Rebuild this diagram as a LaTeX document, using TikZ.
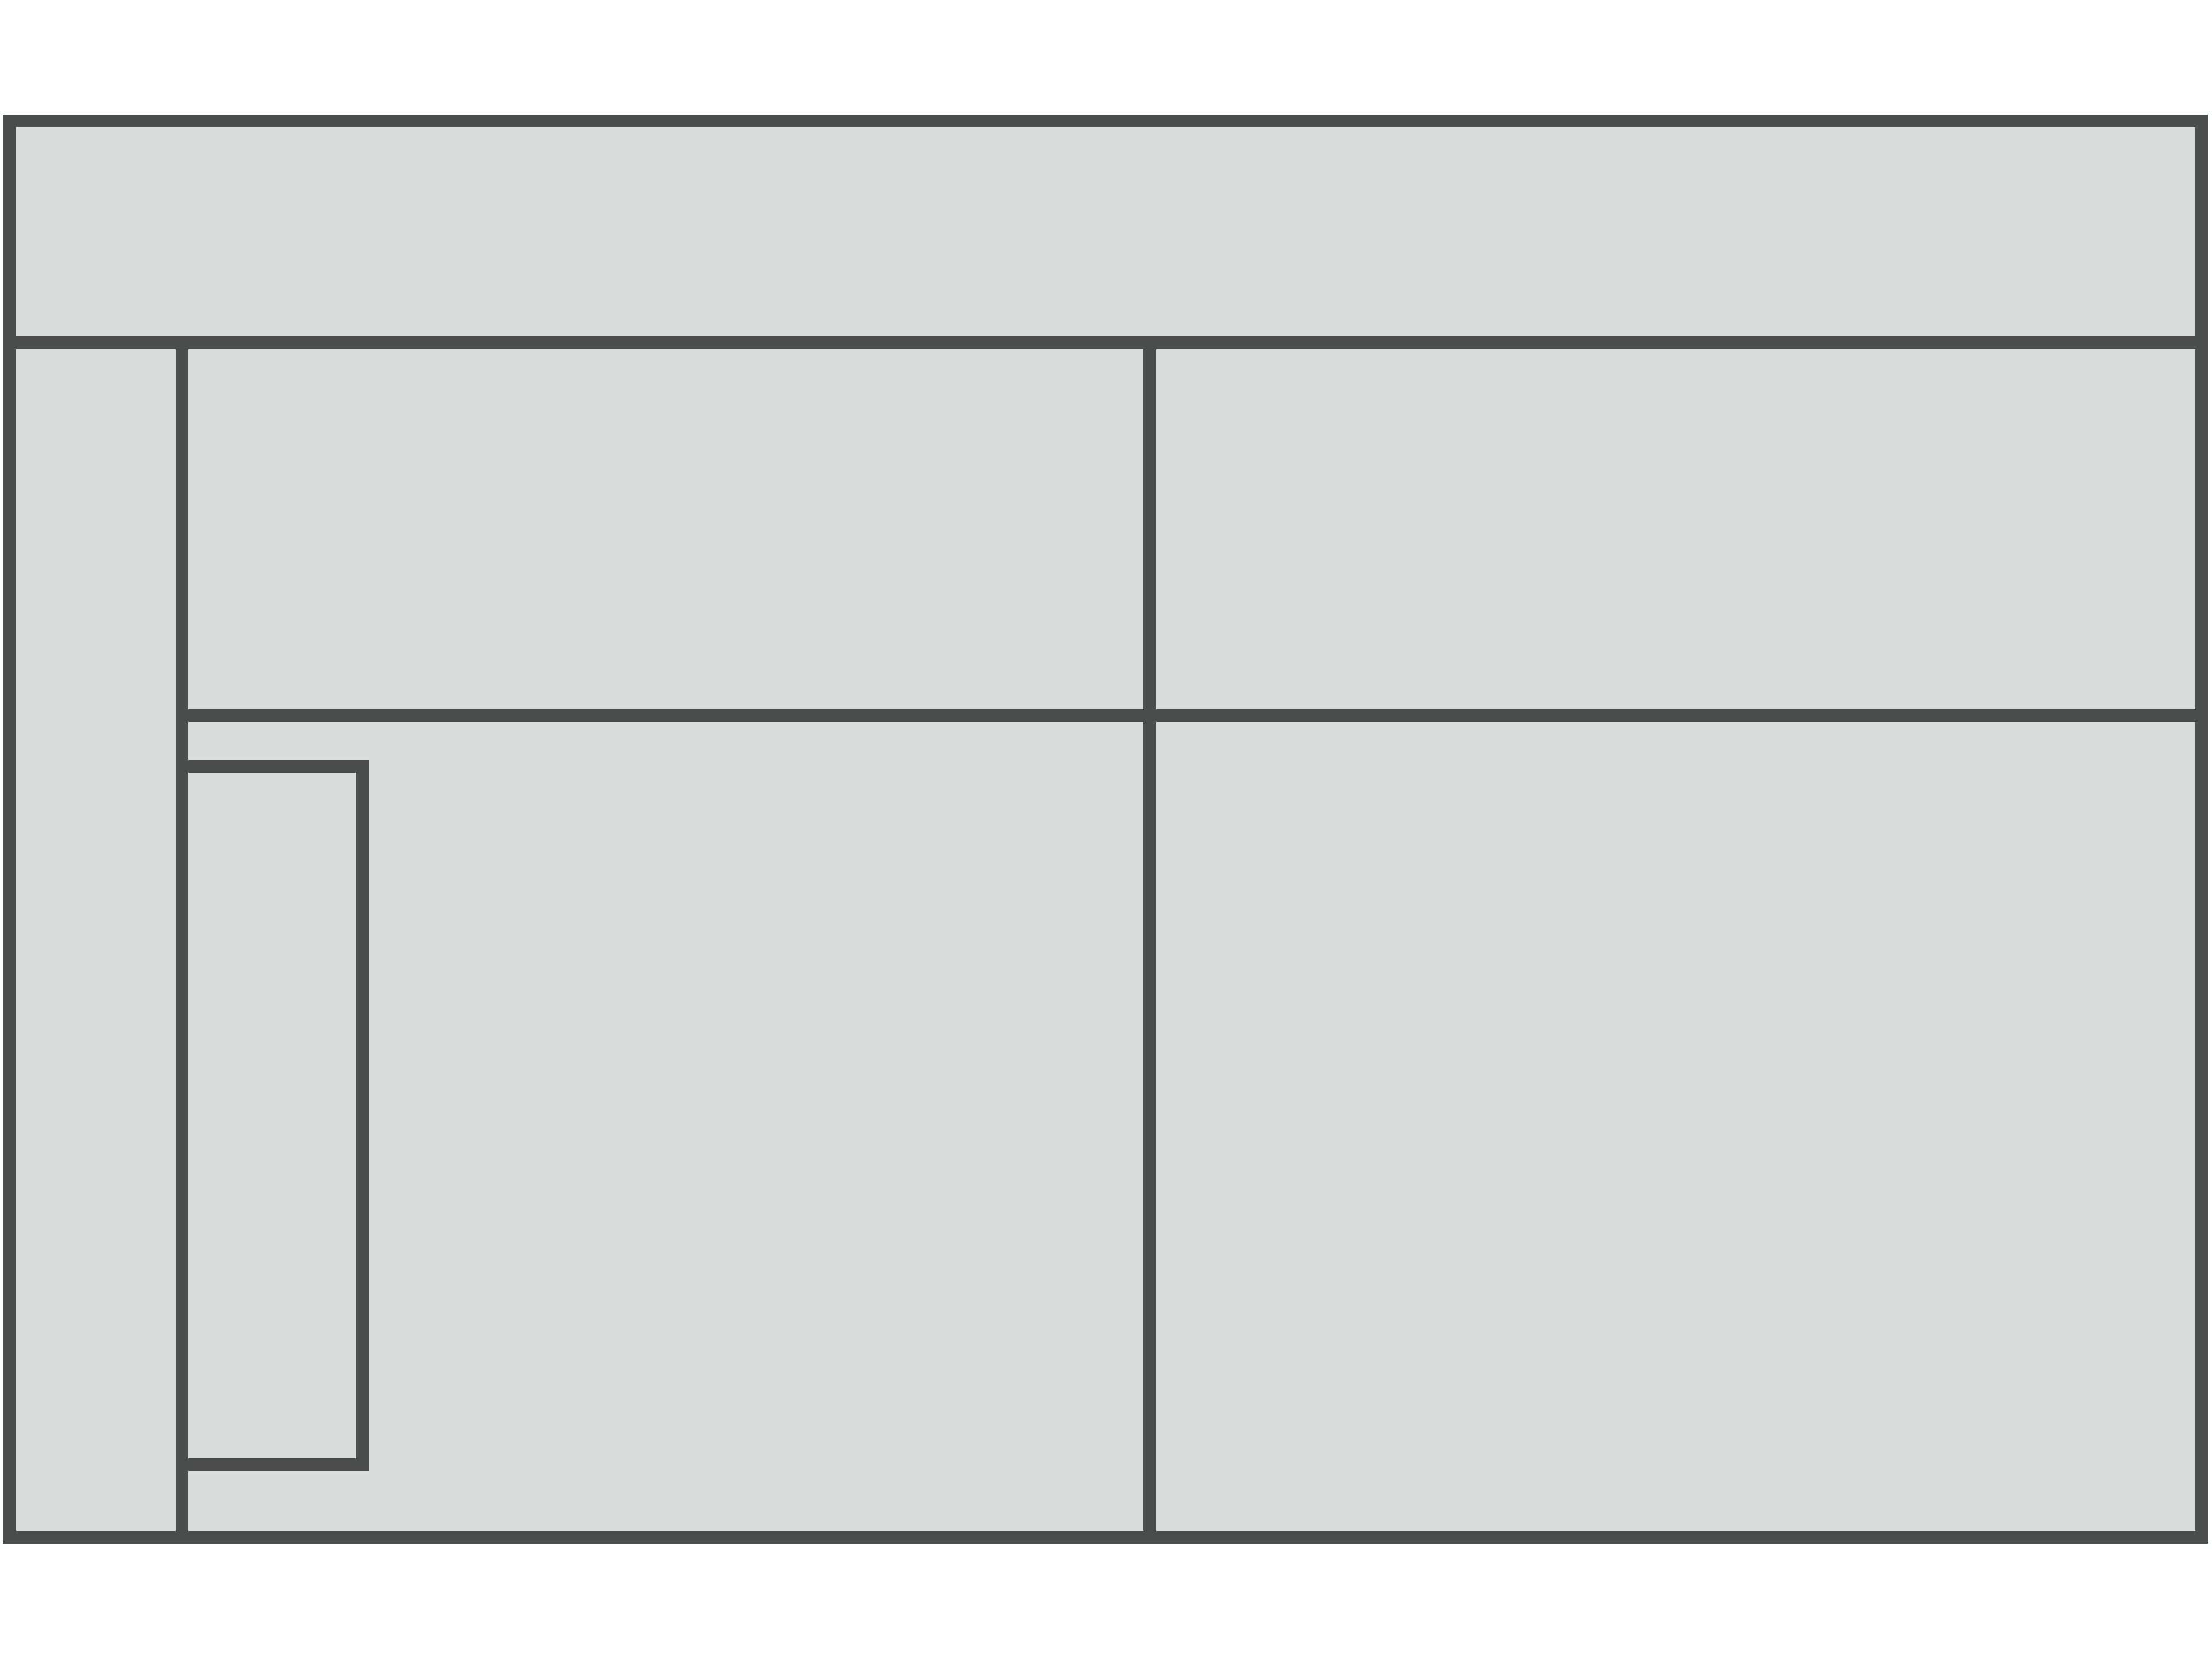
\documentclass[tikz,border=0pt]{standalone}
\usepackage[dvipsnames,svgnames]{xcolor}
\usepackage{tikz}
\usetikzlibrary{calc}

\definecolor{wallgray}{RGB}{74,77,76}
\definecolor{roomgray}{RGB}{216,220,219}

\begin{document}
\begin{tikzpicture}[wall/.style={wallgray,line width=0.22cm,line cap=rect,line join=miter}]
		\useasboundingbox (0,0) rectangle (38.4,28.8);
		\draw[wall,fill=roomgray] (0.17,2.12) rectangle (38.22,26.70);
		\draw[wall] (0.17,22.85) -- (38.22,22.85);
		\draw[wall] (3.16,22.85) -- (3.16,2.12);
		\draw[wall] (19.96,22.85) -- (19.96,2.12);
		\draw[wall] (3.16,16.38) -- (38.22,16.38);
		\draw[wall] (3.16,15.50) rectangle (6.29,3.38);
		\end{tikzpicture}
\end{document}
